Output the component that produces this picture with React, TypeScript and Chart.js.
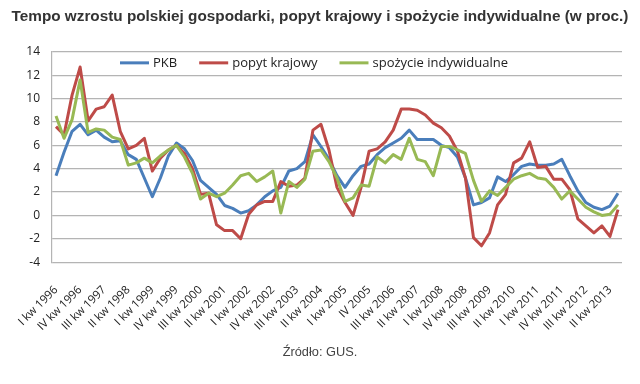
import React, { useEffect, useRef } from "react";
import { Chart, registerables } from "chart.js";

Chart.register(...registerables);

const titleText =
  "Tempo wzrostu polskiej gospodarki, popyt krajowy i spożycie indywidualne (w proc.)";
const sourceText = "Źródło: GUS.";

const categories = [
  "I kw 1996", "II kw 1996", "III kw 1996", "IV kw 1996",
  "I kw 1997", "II kw 1997", "III kw 1997", "IV kw 1997",
  "I kw 1998", "II kw 1998", "III kw 1998", "IV kw 1998",
  "I kw 1999", "II kw 1999", "III kw 1999", "IV kw 1999",
  "I kw 2000", "II kw 2000", "III kw 2000", "IV kw 2000",
  "I kw 2001", "II kw 2001", "III kw 2001", "IV kw 2001",
  "I kw 2002", "II kw 2002", "III kw 2002", "IV kw 2002",
  "I kw 2003", "II kw 2003", "III kw 2003", "IV kw 2003",
  "I kw 2004", "II kw 2004", "III kw 2004", "IV kw 2004",
  "I kw 2005", "II kw 2005", "III kw 2005", "IV 2005",
  "I kw 2006", "II kw 2006", "III kw 2006", "IV kw 2006",
  "I kw 2007", "II kw 2007", "III kw 2007", "IV kw 2007",
  "I kw 2008", "II kw 2008", "III kw 2008", "IV kw 2008",
  "I kw 2009", "II kw 2009", "III kw 2009", "IV kw 2009",
  "I kw 2010", "II kw 2010", "III kw 2010", "IV kw 2010",
  "I kw 2011", "II kw 2011", "III kw 2011", "IV kw 2011",
  "I kw 2012", "II kw 2012", "III kw 2012", "IV kw 2012",
  "I kw 2013", "II kw 2013", "III kw 2013",
];

const pkb = [
  3.4, 5.4, 7.2, 7.8, 6.9, 7.3, 6.7, 6.3, 6.4, 5.2,
  4.8, 3.2, 1.6, 3.2, 5.1, 6.2, 5.7, 4.7, 3.0, 2.4,
  1.8, 0.85, 0.6, 0.2, 0.4, 0.9, 1.6, 2.1, 2.4, 3.8,
  4.0, 4.6, 6.9, 5.9, 4.8, 3.4, 2.4, 3.4, 4.2, 4.4,
  5.2, 5.8, 6.2, 6.6, 7.3, 6.5, 6.5, 6.5, 6.0, 5.8,
  5.0, 3.2, 0.9, 1.1, 1.5, 3.3, 2.9, 3.5, 4.2, 4.4,
  4.3, 4.3, 4.4, 4.8, 3.4, 2.1, 1.1, 0.7, 0.5, 0.8,
  1.9,
];

const popyt = [
  7.6, 6.9, 10.3, 12.7, 8.1, 9.1, 9.3, 10.3, 7.2, 5.7,
  6.0, 6.6, 3.8, 4.9, 5.6, 6.0, 5.3, 4.0, 1.8, 1.9,
  -0.8, -1.3, -1.3, -2.0, 0.1, 0.9, 1.2, 1.2, 2.9, 2.5,
  2.6, 3.2, 7.3, 7.8, 5.6, 2.4, 1.1, 0.0, 2.4, 5.5,
  5.7, 6.3, 7.3, 9.1, 9.1, 9.0, 8.6, 7.9, 7.5, 6.8,
  5.5, 3.2, -1.9, -2.6, -1.5, 0.9, 1.8, 4.5, 4.9, 6.3,
  4.1, 4.2, 3.1, 3.1, 2.2, -0.3, -0.9, -1.5, -0.9, -1.8,
  0.5,
];

const spozycie = [
  8.5, 6.6, 8.2, 11.6, 7.1, 7.4, 7.3, 6.7, 6.5, 4.3,
  4.5, 4.9, 4.5, 5.1, 5.6, 6.0, 5.0, 3.6, 1.4, 1.9,
  1.6, 1.9, 2.6, 3.4, 3.6, 2.9, 3.3, 3.8, 0.2, 2.9,
  2.4, 3.1, 5.5, 5.6, 4.6, 3.2, 1.2, 1.5, 2.6, 2.5,
  5.0, 4.5, 5.2, 4.8, 6.6, 4.8, 4.6, 3.4, 5.9, 5.9,
  5.6, 5.3, 3.0, 1.2, 2.1, 1.7, 2.4, 3.1, 3.4, 3.6,
  3.2, 3.1, 2.4, 1.4, 2.1, 1.4, 0.7, 0.3, 0.0, 0.1,
  0.9,
];

const seriesNames = ["PKB", "popyt krajowy", "spożycie indywidualne"];
const seriesColors = ["#4A7EBB", "#BE4B48", "#98B954"];

const yMin = -4;
const yMax = 14;
const yStep = 2;

const whiteBg = {
  id: "whiteBg",
  beforeDraw(chart: any) {
    const { ctx, width, height } = chart;
    ctx.save();
    ctx.fillStyle = "#ffffff";
    ctx.fillRect(0, 0, width, height);
    ctx.restore();
  },
};

const insideLegend = {
  id: "insideLegend",
  afterDraw(chart: any) {
    const { ctx, chartArea } = chart;
    ctx.save();
    ctx.font = "13px 'Open Sans'";
    ctx.textBaseline = "middle";
    ctx.textAlign = "left";
    let x = chartArea.left + 68;
    const y = chartArea.top + 11;
    chart.data.datasets.forEach((ds: any) => {
      ctx.strokeStyle = ds.borderColor;
      ctx.lineWidth = 3;
      ctx.beginPath();
      ctx.moveTo(x, y);
      ctx.lineTo(x + 29, y);
      ctx.stroke();
      x += 33;
      ctx.fillStyle = "#222222";
      ctx.fillText(ds.label, x, y);
      x += ctx.measureText(ds.label).width + 22;
    });
    ctx.restore();
  },
};

export default function App() {
  const ref = useRef<HTMLCanvasElement | null>(null);

  useEffect(() => {
    if (!ref.current) return;
    const values = [pkb, popyt, spozycie];
    const chart = new Chart(ref.current, {
      type: "line",
      data: {
        labels: categories,
        datasets: values.map((v, i) => ({
          label: seriesNames[i],
          data: v,
          borderColor: seriesColors[i],
          backgroundColor: seriesColors[i],
          borderWidth: 3,
          pointRadius: 0,
          tension: 0,
          borderJoinStyle: "round" as const,
          fill: false,
          order: 3 - i,
          yAxisID: "y",
        })),
      },
      options: {
        animation: false,
        responsive: false,
        layout: { padding: 0 },
        plugins: {
          legend: { display: false },
          tooltip: { enabled: false },
          title: {
            display: true,
            text: titleText,
            color: "#333333",
            font: { family: "'Liberation Sans'", size: 15.3, weight: "bold" },
            padding: { top: 8, bottom: 25.5 },
          },
          subtitle: {
            display: true,
            position: "bottom",
            text: sourceText,
            color: "#444444",
            font: { family: "'Liberation Sans'", size: 12.8 },
            padding: { top: 6, bottom: 24 },
          },
        },
        scales: {
          x: {
            type: "category",
            offset: true,
            grid: { display: false },
            border: { display: false },
            ticks: {
              autoSkip: false,
              maxRotation: 45,
              minRotation: 45,
              padding: 13,
              color: "#222222",
              font: { family: "'Open Sans'", size: 11.5 },
              callback: (_v: any, idx: number) =>
                idx % 3 === 0 ? categories[idx] : null,
            },
            afterFit: (scale: any) => {
              scale.height = 76.5;
            },
          },
          y: {
            min: yMin,
            max: yMax,
            ticks: {
              stepSize: yStep,
              padding: 12,
              color: "#222222",
              font: { family: "'Open Sans'", size: 12 },
            },
            grid: { color: "#b4b4b4", lineWidth: 1.2, drawTicks: false },
            border: { display: true, color: "#b4b4b4", width: 1.2 },
            afterFit: (scale: any) => {
              scale.width = 52;
            },
          },
          yRightSpace: {
            type: "linear",
            position: "right",
            display: true,
            grid: { display: false, drawTicks: false },
            border: { display: false },
            ticks: { display: false },
            afterFit: (scale: any) => {
              scale.width = 18;
            },
          },
        },
      },
      plugins: [whiteBg, insideLegend],
    });
    return () => chart.destroy();
  }, []);

  return (
    <div style={{ position: "absolute", left: 0, top: 0, width: 640, height: 384, background: "#fff" }}>
      <canvas ref={ref} width={640} height={384} />
    </div>
  );
}
